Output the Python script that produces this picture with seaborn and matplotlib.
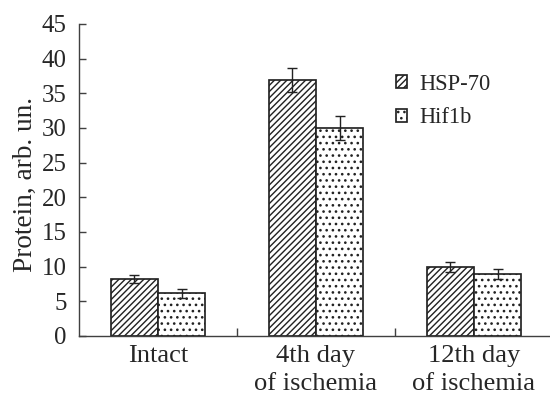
import numpy as np
import pandas as pd
import matplotlib
matplotlib.use("Agg")
import matplotlib.pyplot as plt
import seaborn as sns

categories = ["Intact", "4th day\nof ischemia", "12th day\nof ischemia"]
series = ["HSP-70", "Hif1b"]
hsp_values = [8.2, 36.9, 10.0]
hif_values = [6.15, 30.0, 8.9]
hsp_errors = [0.6, 1.7, 0.7]
hif_errors = [0.7, 1.8, 0.7]
yticks = [0, 5, 10, 15, 20, 25, 30, 35, 40, 45]

df = pd.DataFrame({
    "stage": categories * 2,
    "series": [series[0]] * 3 + [series[1]] * 3,
    "value": hsp_values + hif_values,
})
errors = [hsp_errors, hif_errors]
hatches = ["//////", "..."]

sns.set_style("ticks")
plt.rcParams["font.family"] = ["Liberation Serif", "DejaVu Serif"]
plt.rcParams["hatch.linewidth"] = 0.9

DPI = 112
fig = plt.figure(figsize=(550 / DPI, 398 / DPI), dpi=DPI)
ax = fig.add_axes([79 / 550, 62 / 398, 474 / 550, 312 / 398])

edge = "#222222"
sns.barplot(data=df, x="stage", y="value", hue="series", order=categories,
            hue_order=series, palette=["white", "white"], width=0.6,
            errorbar=None, legend=False, ax=ax, edgecolor=edge, linewidth=1.1,
            saturation=1)

for cont, hatch, err in zip(ax.containers, hatches, errors):
    xs, ys = [], []
    for bar in cont:
        bar.set_hatch(hatch)
        bar.set_edgecolor(edge)
        bar.set_facecolor("white")
        xs.append(bar.get_x() + bar.get_width() / 2)
        ys.append(bar.get_height())
    ax.errorbar(xs, ys, yerr=err, fmt="none", ecolor="#222222",
                elinewidth=0.9, capsize=3.2, capthick=0.9, zorder=5)

ax.set_xlim(-0.5, 2.5)
ax.set_ylim(0, 45)
ax.set_yticks(yticks)
ax.set_xlabel("")
ax.set_ylabel("Protein, arb. un.", fontsize=17.5)
ax.yaxis.set_label_coords(-0.087, 0.484)

ax.set_xticks(range(len(categories)))
ax.set_xticklabels(categories, fontsize=17, linespacing=1.35)
ax.set_xticks([0.5, 1.5], minor=True)
ax.tick_params(axis="x", which="major", length=0, pad=6)
ax.tick_params(axis="x", which="minor", direction="in", length=5,
               width=0.9, color="#404040")
ax.tick_params(axis="y", direction="in", length=4.5, width=0.9,
               color="#404040", labelsize=16, pad=8)

for side in ["top", "right"]:
    ax.spines[side].set_visible(False)
for side in ["left", "bottom"]:
    ax.spines[side].set_color("#404040")
    ax.spines[side].set_linewidth(0.9)

ax.legend(ax.containers, series, loc="upper left",
          bbox_to_anchor=(0.668, 0.84), frameon=False, fontsize=14.5,
          handlelength=0.52, handleheight=0.52, handletextpad=0.55,
          labelspacing=0.55, borderpad=0, borderaxespad=0)

fig.savefig("out.png", dpi=DPI)
